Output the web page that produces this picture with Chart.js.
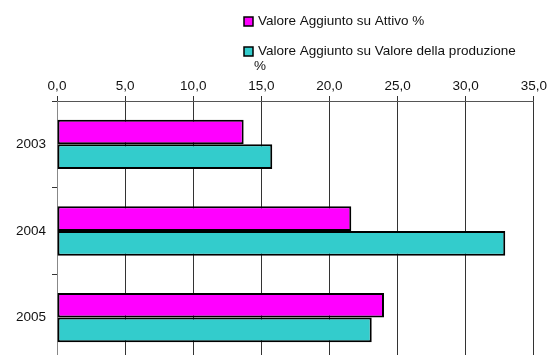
<!DOCTYPE html>
<html>
<head>
<meta charset="utf-8">
<script src="https://cdn.jsdelivr.net/npm/chart.js@4"></script>
<style>
  html, body { margin: 0; padding: 0; background: #fff; overflow: hidden; }
</style>
</head>
<body>
<canvas id="chart" width="549" height="375"></canvas>
<script>
// data
const categories = ['2003', '2004', '2005'];
const attivo = [13.7, 21.6, 24.0];
const produzione = [15.8, 32.9, 23.1];
const seriesLabels = ['Valore Aggiunto su Attivo %', 'Valore Aggiunto su Valore della produzione %'];
const seriesColors = ['#FF00FF', '#33CCCC'];
const xMin = 0, xMax = 35, xStep = 5;

const FONT = '"Liberation Sans", Arial, sans-serif';

// legend drawn by hand: stacked at top right, wrapped like the original
const sideLegend = {
    id: 'sideLegend',
    afterDraw(chart) {
        const ctx = chart.ctx;
        ctx.save();
        ctx.font = '13.5px ' + FONT;
        ctx.textBaseline = 'middle';
        let y = 21;
        chart.data.datasets.forEach(ds => {
            ctx.fillStyle = ds.backgroundColor;
            ctx.fillRect(244, y - 4, 9, 9);
            ctx.strokeStyle = '#000';
            ctx.lineWidth = 1.5;
            ctx.strokeRect(244, y - 4, 9, 9);
            // simple word wrap
            const words = ds.label.split(' ');
            const lines = [];
            let line = '';
            words.forEach(w => {
                const test = line ? line + ' ' + w : w;
                if (ctx.measureText(test).width > 268 && line) { lines.push(line); line = w; }
                else line = test;
            });
            lines.push(line);
            ctx.fillStyle = '#111';
            lines.forEach((l, i) => ctx.fillText(l, i === 0 ? 258 : 254, y + i * 15));
            y += 30;
        });
        ctx.restore();
    }
};

new Chart(document.getElementById('chart'), {
    type: 'bar',
    data: {
        labels: categories,
        datasets: [
            { label: seriesLabels[0], data: attivo, backgroundColor: seriesColors[0] },
            { label: seriesLabels[1], data: produzione, backgroundColor: seriesColors[1] }
        ]
    },
    options: {
        indexAxis: 'y',
        responsive: false,
        animation: false,
        layout: { padding: { top: 0, left: 0, right: 14, bottom: 5 } },
        datasets: {
            bar: {
                categoryPercentage: 0.57,
                barPercentage: 1.0,
                borderColor: '#000',
                borderWidth: 2,
                borderSkipped: false
            }
        },
        plugins: {
            legend: { display: false },
            tooltip: { enabled: false }
        },
        scales: {
            x: {
                position: 'top',
                min: xMin,
                max: xMax,
                afterFit(scale) { scale.height = 101; },
                ticks: {
                    stepSize: xStep,
                    padding: 2,
                    color: '#111',
                    font: { family: FONT, size: 13.5 },
                    callback: v => v.toFixed(1).replace('.', ',')
                },
                grid: { color: '#333', lineWidth: 1, tickLength: 5 },
                border: { color: '#555', width: 1 }
            },
            y: {
                afterFit(scale) { scale.width = 57; },
                ticks: {
                    padding: 6,
                    color: '#111',
                    font: { family: FONT, size: 13.5 }
                },
                grid: { offset: true, drawOnChartArea: false, tickLength: 5, color: '#333' },
                border: { color: '#888', width: 1 }
            }
        }
    },
    plugins: [sideLegend]
});
</script>
</body>
</html>
